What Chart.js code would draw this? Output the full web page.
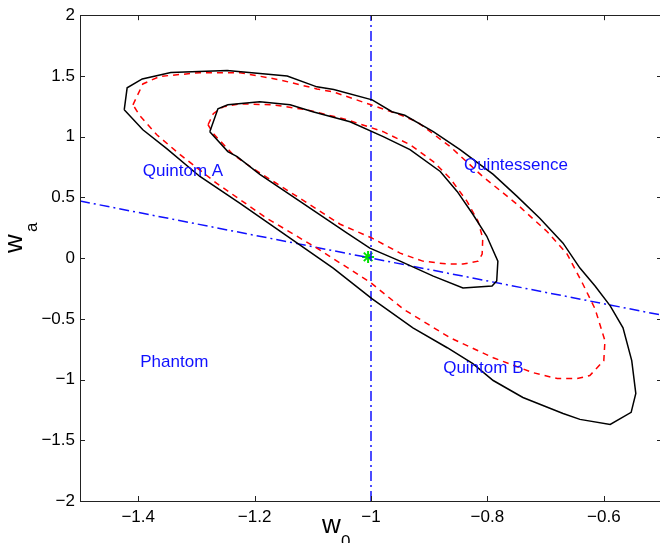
<!DOCTYPE html>
<html>
<head>
<meta charset="utf-8">
<script src="https://cdn.jsdelivr.net/npm/chart.js@4"></script>
<style>
html,body{margin:0;padding:0;overflow:hidden;background:#fff;width:660px;height:543px;}
#wrap{position:absolute;left:0;top:0;width:664px;height:543px;}
</style>
</head>
<body>
<div id="wrap"><canvas id="c" width="664" height="543"></canvas></div>
<script>
// ---- data (w0, wa) ----
const blackOuterW0 = [-1.424,-1.419,-1.393,-1.344,-1.247,-1.144,-1.093,-1.064,-0.998,-0.964,-0.942,-0.893,-0.847,-0.790,-0.749,-0.710,-0.670,-0.641,-0.615,-0.589,-0.567,-0.552,-0.545,-0.553,-0.589,-0.641,-0.670,-0.739,-0.790,-0.825,-0.869,-0.928,-0.998,-1.065,-1.144,-1.225,-1.294,-1.351,-1.392];
const blackOuterWa = [1.221,1.402,1.475,1.529,1.545,1.500,1.410,1.389,1.303,1.205,1.176,1.041,0.893,0.689,0.508,0.328,0.123,-0.082,-0.230,-0.393,-0.574,-0.844,-1.115,-1.270,-1.369,-1.328,-1.279,-1.148,-1.008,-0.869,-0.738,-0.574,-0.336,-0.082,0.180,0.451,0.672,0.902,1.057];

const blackInnerW0 = [-1.277,-1.263,-1.246,-1.191,-1.139,-1.100,-1.036,-0.979,-0.933,-0.881,-0.852,-0.825,-0.801,-0.782,-0.784,-0.792,-0.842,-0.893,-0.950,-1.002,-1.041,-1.122,-1.191,-1.230,-1.246];
const blackInnerWa = [1.041,1.230,1.262,1.287,1.262,1.205,1.123,1.000,0.893,0.713,0.549,0.361,0.180,-0.025,-0.189,-0.230,-0.246,-0.148,-0.025,0.082,0.205,0.467,0.689,0.836,0.877];

const redOuterW0 = [-1.409,-1.392,-1.363,-1.294,-1.225,-1.156,-1.093,-1.065,-1.000,-0.950,-0.921,-0.864,-0.808,-0.749,-0.698,-0.663,-0.636,-0.615,-0.598,-0.600,-0.624,-0.646,-0.680,-0.722,-0.790,-0.864,-0.945,-1.002,-1.093,-1.179,-1.265,-1.328,-1.368,-1.397];
const redOuterWa = [1.262,1.434,1.496,1.527,1.527,1.467,1.393,1.369,1.262,1.180,1.123,0.918,0.672,0.443,0.221,0.033,-0.213,-0.418,-0.680,-0.844,-0.967,-0.992,-0.992,-0.943,-0.820,-0.656,-0.418,-0.197,0.082,0.328,0.615,0.852,1.016,1.172];

const redInnerW0 = [-1.280,-1.271,-1.254,-1.225,-1.168,-1.110,-1.041,-0.979,-0.933,-0.893,-0.864,-0.835,-0.816,-0.808,-0.809,-0.816,-0.842,-0.869,-0.911,-0.950,-0.998,-1.053,-1.122,-1.203,-1.237,-1.271];
const redInnerWa = [1.098,1.189,1.246,1.270,1.262,1.221,1.139,1.041,0.934,0.795,0.656,0.467,0.303,0.164,0.033,-0.025,-0.049,-0.049,-0.025,0.041,0.164,0.279,0.492,0.738,0.852,1.025];

const diagLineW0 = [-1.5, -0.5];
const diagLineWa = [0.47, -0.47];
const vertLineW0 = [-1, -1];
const vertLineWa = [-2, 2];
const bestFitW0 = [-1.005];
const bestFitWa = [0.01];

const regionNames = ['Quintom A', 'Quintessence', 'Quintom B', 'Phantom'];
const regionW0 = [-1.323, -0.751, -0.807, -1.338];
const regionWa = [0.713, 0.760, -0.904, -0.858];

const xTicks = [-1.4, -1.2, -1, -0.8, -0.6];
const yTicks = [-2, -1.5, -1, -0.5, 0, 0.5, 1, 1.5, 2];

// ---- helpers ----
function pts(xs, ys, close) {
  const p = xs.map((x, i) => ({x: x, y: ys[i]}));
  if (close) p.push({x: xs[0], y: ys[0]});
  return p;
}
const fmt = v => String(v).replace('-', '\u2212');
const FONT = '"Liberation Sans", Arial, Helvetica, sans-serif';
const BLUE = '#1010ff';
const RIGHT_PAD = 2;

const frame = {
  id: 'frame',
  afterLayout(chart) {
    // the plot box runs to the canvas edge minus a small pad (as in the reference)
    const a = chart.chartArea, x = chart.scales.x;
    a.right = chart.width - RIGHT_PAD;
    a.width = a.right - a.left;
    x.right = a.right;
    x.width = x.right - x.left;
    x.configure();
  },
  afterDatasetsDraw(chart) {
    const ctx = chart.ctx, a = chart.chartArea;
    const xs = chart.scales.x, ys = chart.scales.y;
    ctx.save();
    // region labels
    ctx.fillStyle = BLUE;
    ctx.font = '17px ' + FONT;
    ctx.textAlign = 'center';
    ctx.textBaseline = 'middle';
    regionNames.forEach((t, i) => {
      ctx.fillText(t, xs.getPixelForValue(regionW0[i]), ys.getPixelForValue(regionWa[i]));
    });
    // frame
    ctx.strokeStyle = '#222';
    ctx.lineWidth = 1;
    ctx.strokeRect(Math.round(a.left) + 0.5, Math.round(a.top) + 0.5, Math.round(a.right - a.left), Math.round(a.bottom - a.top));
    const L = 5;
    ctx.beginPath();
    xTicks.forEach(v => {
      const px = Math.round(xs.getPixelForValue(v)) + 0.5;
      ctx.moveTo(px, a.bottom); ctx.lineTo(px, a.bottom - L);
      ctx.moveTo(px, a.top); ctx.lineTo(px, a.top + L);
    });
    yTicks.forEach(v => {
      const py = Math.round(ys.getPixelForValue(v)) + 0.5;
      ctx.moveTo(a.left, py); ctx.lineTo(a.left + L, py);
      ctx.moveTo(a.right, py); ctx.lineTo(a.right - L, py);
    });
    ctx.stroke();
    // axis titles with subscripts
    ctx.fillStyle = '#000';
    ctx.textAlign = 'left';
    ctx.textBaseline = 'alphabetic';
    ctx.save();
    ctx.translate(22, 253);
    ctx.rotate(-Math.PI / 2);
    ctx.font = '26px ' + FONT;
    ctx.fillText('w', 0, 0);
    ctx.font = '17px ' + FONT;
    ctx.fillText('a', 21, 15);
    ctx.restore();
    ctx.font = '26px ' + FONT;
    ctx.fillText('w', 322, 533);
    ctx.font = '17px ' + FONT;
    ctx.fillText('0', 341, 547);
    ctx.restore();
  }
};

new Chart(document.getElementById('c'), {
  type: 'scatter',
  data: {
    datasets: [
      {data: pts(blackOuterW0, blackOuterWa, true), showLine: true, borderColor: '#000', borderWidth: 1.5, pointRadius: 0, tension: 0},
      {data: pts(blackInnerW0, blackInnerWa, true), showLine: true, borderColor: '#000', borderWidth: 1.5, pointRadius: 0, tension: 0},
      {data: pts(redOuterW0, redOuterWa, true), showLine: true, borderColor: '#ff0000', borderWidth: 1.5, borderDash: [6, 5], pointRadius: 0, tension: 0},
      {data: pts(redInnerW0, redInnerWa, true), showLine: true, borderColor: '#ff0000', borderWidth: 1.5, borderDash: [6, 5], pointRadius: 0, tension: 0},
      {data: pts(diagLineW0, diagLineWa, false), showLine: true, borderColor: BLUE, borderWidth: 1.5, borderDash: [10, 4, 2, 4], pointRadius: 0},
      {data: pts(vertLineW0, vertLineWa, false), showLine: true, borderColor: BLUE, borderWidth: 1.5, borderDash: [10, 4, 2, 4], pointRadius: 0},
      {data: pts(bestFitW0, bestFitWa, false), showLine: false, pointStyle: 'star', pointRadius: 6, borderColor: '#00e000', borderWidth: 2, backgroundColor: '#00e000'}
    ]
  },
  options: {
    responsive: false,
    animation: false,
    devicePixelRatio: 1,
    layout: {padding: {top: 13, right: RIGHT_PAD, left: 0, bottom: 0}},
    plugins: {legend: {display: false}, tooltip: {enabled: false}},
    scales: {
      x: {
        type: 'linear', min: -1.5, max: -0.5,
        afterBuildTicks: s => { s.ticks = xTicks.map(v => ({value: v})); },
        afterFit: s => { s.height = 42; },
        grid: {display: false, drawTicks: false},
        border: {display: false},
        ticks: {color: '#000', font: {family: FONT, size: 17}, padding: 6, maxRotation: 0, callback: v => fmt(v)}
      },
      y: {
        type: 'linear', min: -2, max: 2,
        afterBuildTicks: s => { s.ticks = yTicks.map(v => ({value: v})); },
        afterFit: s => { s.width = 80; },
        grid: {display: false, drawTicks: false},
        border: {display: false},
        ticks: {color: '#000', font: {family: FONT, size: 17}, padding: 5, callback: v => fmt(v)}
      }
    }
  },
  plugins: [frame]
});
</script>
</body>
</html>
